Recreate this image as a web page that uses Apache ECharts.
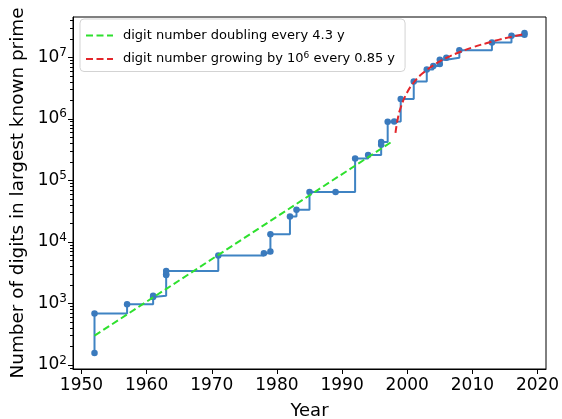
<!DOCTYPE html>
<html>
<head>
<meta charset="utf-8">
<script src="https://cdn.jsdelivr.net/npm/echarts@6/dist/echarts.min.js"></script>
<style>
  html, body { margin: 0; padding: 0; background: #fff; }
  #chart { width: 562px; height: 419px; }
</style>
</head>
<body>
<div id="chart"></div>
<script>
// record primes as marked on the plot: year and number of digits
const years = [1952, 1952, 1957, 1961, 1961, 1963, 1963, 1963,
  1971, 1978, 1979, 1979, 1982, 1983, 1985, 1989, 1992, 1994, 1996, 1996,
  1997, 1998, 1999, 2001, 2003, 2004, 2005, 2005, 2006, 2008, 2013, 2016, 2018, 2018];
const digits = [157, 687, 969, 1281, 1332, 2917, 2993, 3376,
  6002, 6533, 6987, 13395, 25962, 33265, 65050, 65087, 227832, 258716, 378632, 420921,
  895932, 909526, 2098960, 4053946, 6320430, 7235733, 7816230, 9152052, 9808358,
  12978189, 17425170, 22338618, 23249425, 24862048];

// green fit (straight on the log axis): end points
const fitExpYears = [1952, 1997.7];
const fitExpDigits = [300, 430000];

// red fit, points
const fitLinYears = [1998.2, 1998.5, 1999, 2000, 2001, 2002, 2003, 2004, 2005, 2006,
  2008, 2010, 2012, 2014, 2016, 2018];
const fitLinDigits = [590000, 940000, 1530000, 2700000, 3900000, 5100000, 6200000, 7400000,
  8600000, 9800000, 12100000, 14500000, 16800000, 19200000, 21500000, 23900000];

const xTicks = [1950, 1960, 1970, 1980, 1990, 2000, 2010, 2020];
const yTicks = [1e2, 1e3, 1e4, 1e5, 1e6, 1e7];

let yMinor = [];
for (let e = 1; e <= 7; e++) {
    for (let m = 2; m <= 9; m++) {
        let v = m * Math.pow(10, e);
        if (v > 86.3 && v < 4.52e7) yMinor.push(v);
    }
}

const zip = (a, b) => a.map((v, i) => [v, b[i]]);

const font = 'DejaVu Sans';
const labelExp = {
    fontFamily: font, fontSize: 17, color: '#000',
    rich: {
        sup: {fontFamily: font, fontSize: 12, color: '#000', padding: [0, 0, 9, 0]}
    }
};

let chart = echarts.init(document.getElementById('chart'), null, {renderer: 'canvas'});
let option = {
    animation: false,
    textStyle: {fontFamily: font},
    grid: {
        left: 73, right: 16, top: 17, bottom: 50,
        outerBoundsMode: 'none',
        show: true, borderColor: '#000', borderWidth: 1, backgroundColor: 'transparent'
    },
    legend: {
        left: 80, top: 19,
        orient: 'vertical',
        itemWidth: 27, itemHeight: 14, itemGap: 9,
        padding: [10, 10, 6, 5],
        backgroundColor: 'rgba(255,255,255,0.85)',
        borderColor: '#d3d3d3', borderWidth: 1, borderRadius: 4,
        itemStyle: {opacity: 0},
        data: ['exp', 'lin'],
        formatter: name => name === 'exp'
            ? 'digit number doubling every 4.3 y'
            : 'digit number growing by 10{sup|6} every 0.85 y',
        textStyle: {
            fontFamily: font, fontSize: 13, color: '#000', padding: [0, 0, 0, 5],
            rich: {sup: {fontFamily: font, fontSize: 9, color: '#000', padding: [0, 0, 7, 0]}}
        }
    },
    xAxis: {
        type: 'value', min: 1948.7, max: 2021.3,
        name: 'Year', nameLocation: 'middle', nameGap: 33,
        nameTextStyle: {fontFamily: font, fontSize: 18, color: '#000'},
        splitLine: {show: false},
        axisLine: {lineStyle: {color: '#000', width: 1}},
        axisTick: {customValues: xTicks, length: 5, lineStyle: {color: '#000'}},
        axisLabel: {
            customValues: xTicks, margin: 8, fontFamily: font, fontSize: 17, color: '#000',
            formatter: v => String(v)
        }
    },
    yAxis: [{
        type: 'log', logBase: 10, min: 86.3, max: 4.52e7,
        position: 'left',
        name: 'Number of digits in largest known prime',
        nameLocation: 'middle', nameGap: 46,
        nameTextStyle: {fontFamily: font, fontSize: 18.4, color: '#000'},
        splitLine: {show: false},
        axisLine: {show: true, lineStyle: {color: '#000', width: 1}},
        axisTick: {show: true, customValues: yTicks, length: 5, lineStyle: {color: '#000'}},
        axisLabel: {
            customValues: yTicks, margin: 6,
            formatter: v => '10{sup|' + Math.round(Math.log10(v)) + '}',
            ...labelExp
        }
    }, {
        // minor ticks only
        type: 'log', logBase: 10, min: 86.3, max: 4.52e7,
        position: 'left',
        splitLine: {show: false},
        axisLine: {show: false},
        axisTick: {show: true, customValues: yMinor, length: 3, lineStyle: {color: '#000'}},
        axisLabel: {show: false}
    }],
    series: [{
        name: 'records',
        type: 'line',
        step: 'end',
        data: zip(years, digits),
        symbol: 'circle', symbolSize: 6.5,
        lineStyle: {color: '#3f83c3', width: 2},
        itemStyle: {color: '#3a7abd'},
        z: 2
    }, {
        name: 'exp',
        type: 'line',
        data: zip(fitExpYears, fitExpDigits),
        symbol: 'none',
        lineStyle: {color: '#2ee02e', width: 2, type: [7, 3.5]},
        itemStyle: {color: '#2ee02e'},
        z: 3
    }, {
        name: 'lin',
        type: 'line',
        smooth: true,
        data: zip(fitLinYears, fitLinDigits),
        symbol: 'none',
        lineStyle: {color: '#e3262b', width: 2, type: [7, 3.5]},
        itemStyle: {color: '#e3262b'},
        z: 4
    }]
};
chart.setOption(option);
</script>
</body>
</html>
